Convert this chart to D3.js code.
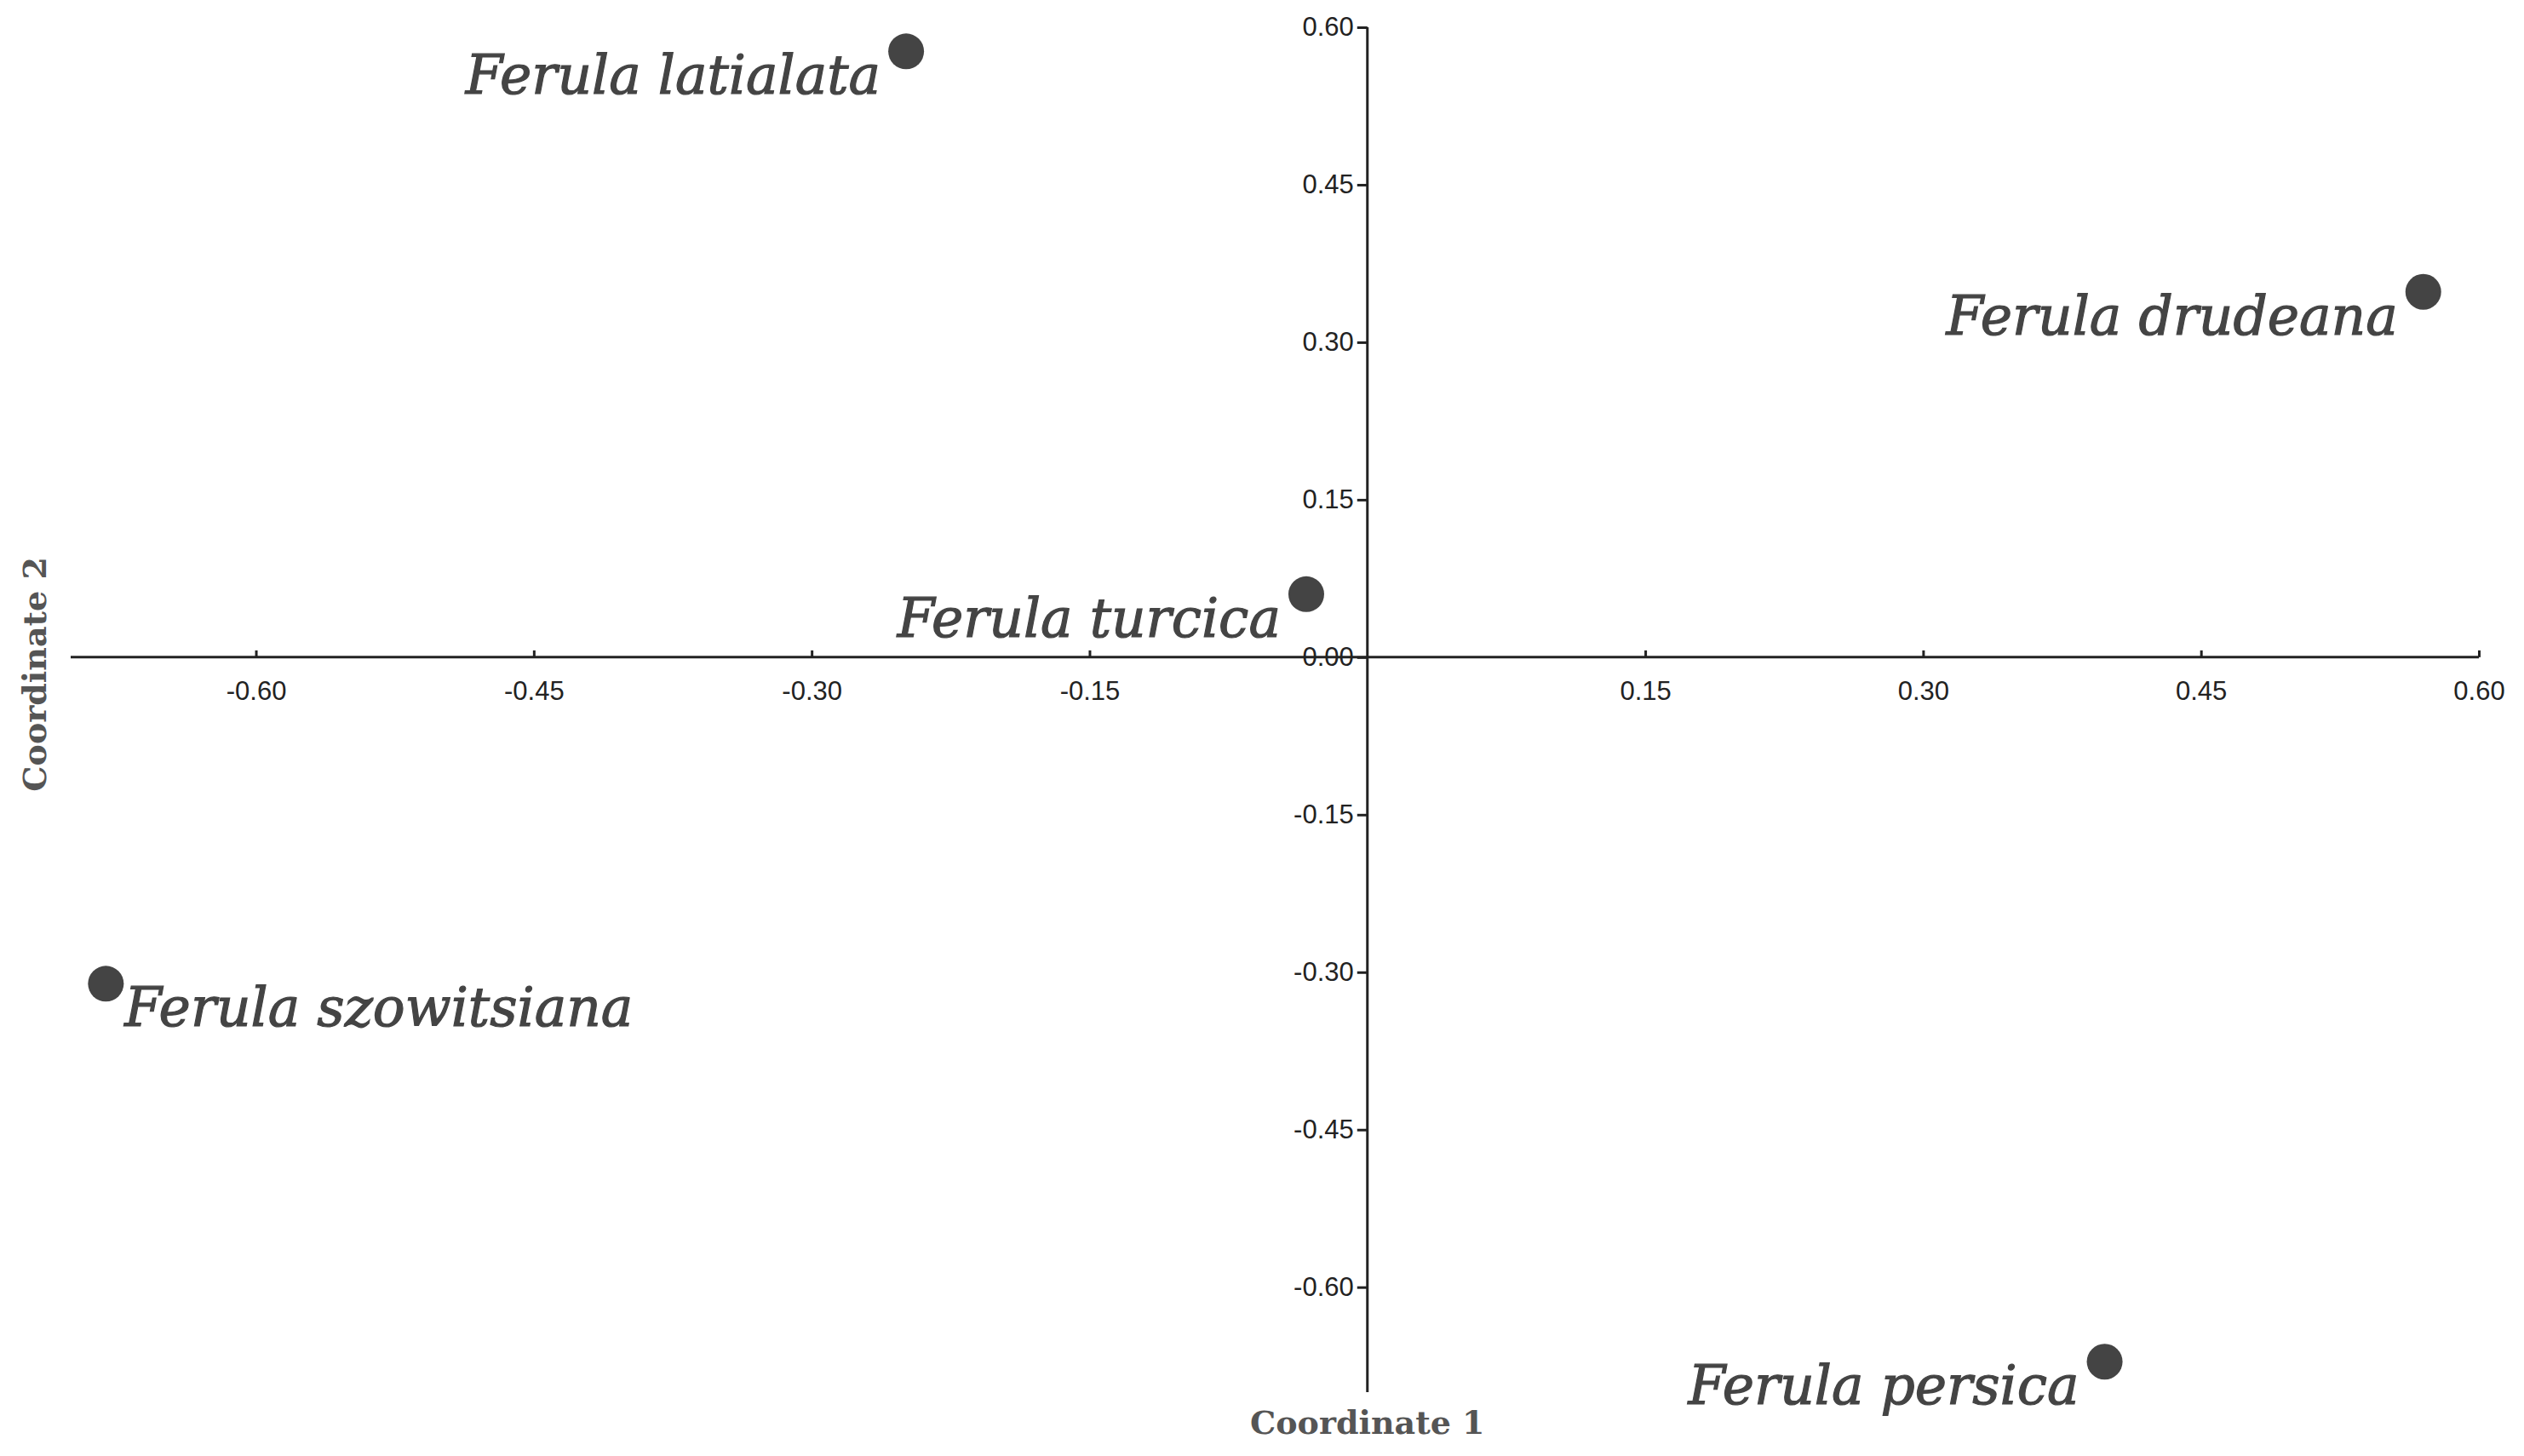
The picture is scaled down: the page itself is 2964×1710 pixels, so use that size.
<!DOCTYPE html>
<html>
<head>
<meta charset="utf-8">
<script src="https://cdn.jsdelivr.net/npm/d3@7"></script>
<style>
body { margin: 0; background: #fff; }
.tick text { font-family: "Liberation Sans", Arial, sans-serif; font-size: 31px; fill: #222; }
.domain, .tick line { stroke: #222; stroke-width: 3px; }
.label { font-family: "DejaVu Serif", serif; font-style: italic; font-size: 63px; fill: #444; stroke: #444; stroke-width: 1.2px; }
.title { font-family: "DejaVu Serif", serif; font-weight: bold; font-size: 38px; fill: #555; }
</style>
</head>
<body>
<div id="chart"></div>
<script>
// species and their coordinates
var species = ['Ferula latialata', 'Ferula drudeana', 'Ferula turcica', 'Ferula szowitsiana', 'Ferula persica'];
var coord1 = [-0.249, 0.570, -0.033, -0.681, 0.398];
var coord2 = [0.577, 0.348, 0.060, -0.311, -0.671];
var xTicks = [-0.60, -0.45, -0.30, -0.15, 0.15, 0.30, 0.45, 0.60];
var yTicks = [0.60, 0.45, 0.30, 0.15, 0.00, -0.15, -0.30, -0.45, -0.60];

var width = 2964, height = 1710;
var svg = d3.select('#chart').append('svg').attr('width', width).attr('height', height);

var x = d3.scaleLinear().domain([-0.70, 0.60]).range([83, 2911]);
var y = d3.scaleLinear().domain([-0.70, 0.60]).range([1635, 32]);
var fmt = d => d.toFixed(2);

// x axis through origin
var xAxis = svg.append('g').attr('transform', `translate(0,${y(0)})`)
    .call(d3.axisBottom(x).tickValues(xTicks).tickFormat(fmt).tickSize(0).tickPadding(28));
xAxis.select('.domain').attr('d', `M${x(-0.70)},0H${x(0.60)}`);
xAxis.selectAll('.tick').append('line').attr('y1', 0).attr('y2', -8);

// y axis through origin
var yAxis = svg.append('g').attr('transform', `translate(${x(0)},0)`)
    .call(d3.axisLeft(y).tickValues(yTicks).tickFormat(fmt).tickSize(12).tickPadding(4));
yAxis.select('.domain').attr('d', `M0,${y(0.60)}V${y(-0.70)}`);

var pts = svg.append('g');
species.forEach((name, i) => {
    var cx = x(coord1[i]), cy = y(coord2[i]);
    pts.append('circle').attr('cx', cx).attr('cy', cy).attr('r', 21).attr('fill', '#444');
    var left = i === 3;
    pts.append('text').attr('class', 'label')
        .attr('x', left ? cx + 22 : cx - 30)
        .attr('y', cy + 50)
        .attr('text-anchor', left ? 'start' : 'end')
        .text(name);
});

svg.append('text').attr('class', 'title').attr('text-anchor', 'middle')
    .attr('x', x(0)).attr('y', 1684).text('Coordinate 1');
svg.append('text').attr('class', 'title').attr('text-anchor', 'middle')
    .attr('transform', `translate(54,${y(0) + 20})rotate(-90)`).text('Coordinate 2');
</script>
</body>
</html>
